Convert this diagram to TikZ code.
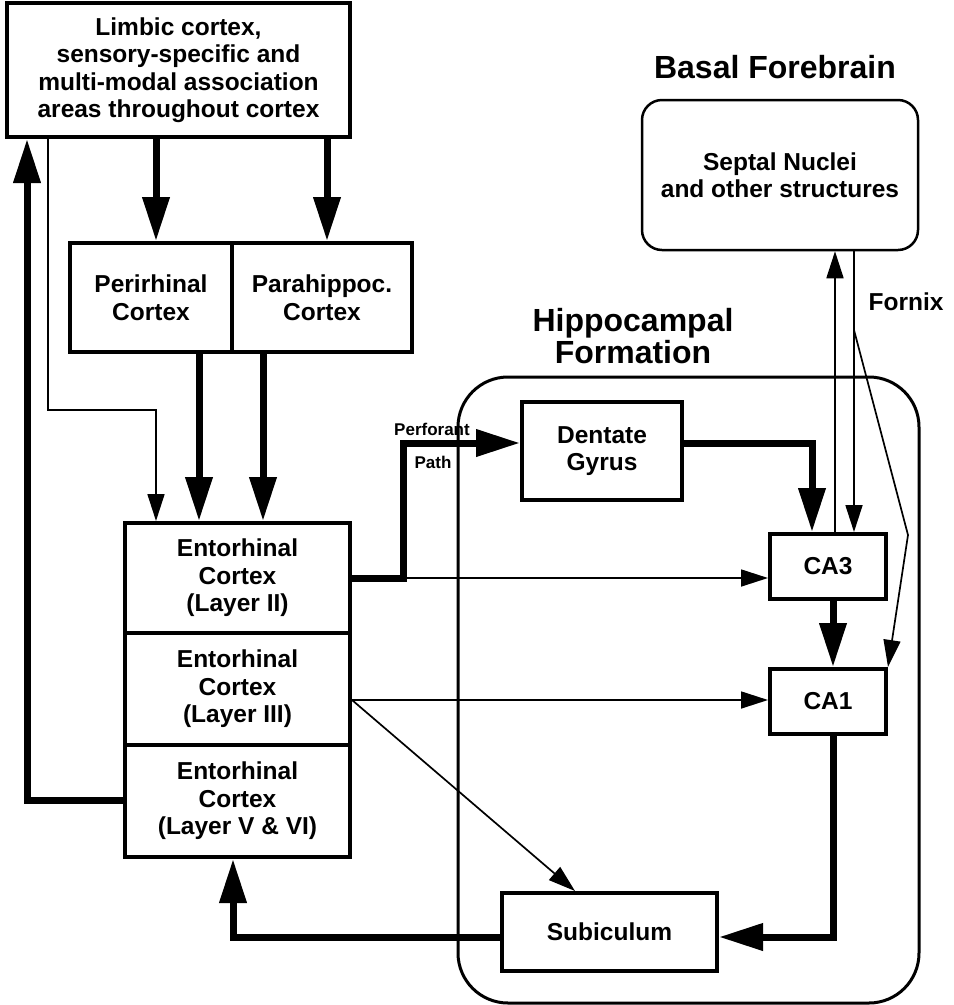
\documentclass[tikz,border=0pt]{standalone}
\usepackage{fontspec}
\setmainfont{Liberation Sans}
\usetikzlibrary{arrows.meta,calc}
\begin{document}
\begin{tikzpicture}[x=1pt,y=-1pt,
  box/.style={draw, line width=4pt, align=center, inner sep=0pt,
    font=\bfseries\fontsize{24.5}{27.5}\selectfont},
  bigarrow/.style={line width=7pt, line join=miter, -{Triangle[length=44pt,width=26pt]}},
  thinarrow/.style={line width=1.7pt, -{Triangle[length=27pt,width=17pt]}},
  heading/.style={align=center, font=\bfseries\fontsize{32}{32}\selectfont, inner sep=0pt},
  lbl/.style={align=center, font=\bfseries\fontsize{24.5}{27}\selectfont, inner sep=0pt},
  smalllbl/.style={font=\bfseries\fontsize{17}{17}\selectfont, inner sep=0pt}
]
\useasboundingbox[fill=white] (0,0) rectangle (954,1005);

% regions
\node[draw, line width=3pt, rounded corners=50pt, minimum width=461pt, minimum height=626pt, inner sep=0pt] (hippo) at (688.5,690) {};
\node[draw, line width=2.5pt, rounded corners=20pt, minimum width=276pt, minimum height=150pt, align=center, inner sep=0pt,
  font=\bfseries\fontsize{24.5}{27}\selectfont] (septal) at (780,175) {Septal Nuclei\\and other structures};

% headings
\node[heading] (bfhead) at (775,67) {Basal Forebrain};
\node[heading] (hfhead) at (633,336) {Hippocampal\\Formation};
\node[lbl] (fornix) at (906,302) {Fornix};

% boxes
\node[box, minimum width=343pt, minimum height=134pt] (limbic) at (178.5,70)
  {Limbic cortex,\\sensory-specific and\\multi-modal association\\areas throughout cortex};
\node[box, minimum width=162pt, minimum height=109pt] (peri) at (151,297.5) {Perirhinal\\Cortex};
\node[box, minimum width=180pt, minimum height=109pt] (para) at (322,297.5) {Parahippoc.\\Cortex};
\node[box, minimum width=225pt, minimum height=110pt] (ec2) at (237.5,578) {Entorhinal\\Cortex\\(Layer II)};
\node[box, minimum width=225pt, minimum height=112pt] (ec3) at (237.5,689) {Entorhinal\\Cortex\\(Layer III)};
\node[box, minimum width=225pt, minimum height=112pt] (ec5) at (237.5,801) {Entorhinal\\Cortex\\(Layer V \& VI)};
\node[box, minimum width=160pt, minimum height=98pt] (dg) at (602,451) {Dentate\\Gyrus};
\node[box, minimum width=116pt, minimum height=65pt] (ca3) at (828,566.5) {CA3};
\node[box, minimum width=116pt, minimum height=65pt] (ca1) at (828,701.5) {CA1};
\node[box, minimum width=215pt, minimum height=78pt] (sub) at (609.5,932) {Subiculum};

% perforant path labels
\node[smalllbl] (perf) at (432,429) {Perforant};
\node[smalllbl] (path) at (433,462) {Path};

% cortex inputs
\draw[bigarrow] (156,0 |- limbic.south) -- (156,0 |- peri.north);
\draw[bigarrow] (327,0 |- limbic.south) -- (327,0 |- para.north);
\draw[thinarrow] (48,0 |- limbic.south) -- (48,410) -- (156,410) -- (156,0 |- ec2.north);
\draw[bigarrow] (199,0 |- peri.south) -- (199,0 |- ec2.north);
\draw[bigarrow] (263,0 |- para.south) -- (263,0 |- ec2.north);
\draw[bigarrow] (ec5.west |- 0,800) -- (27,800) -- (27,0 |- limbic.south);

% perforant path
\coordinate (pp) at (403,578);
\draw[bigarrow] (ec2.east |- pp) -- (pp) -- (403,443) -- (dg.west |- 0,443);
\draw[thinarrow] (pp) -- (ca3.west |- pp);
\draw[bigarrow] (dg.east |- 0,443) -- (812,443) -- (812,0 |- ca3.north);
\draw[bigarrow] (833,0 |- ca3.south) -- (833,0 |- ca1.north);
\draw[thinarrow] (ec3.east |- 0,700) -- (ca1.west |- 0,700);
\draw[thinarrow] (ec3.east |- 0,700) -- (575,0 |- sub.north);
\draw[bigarrow] (833,0 |- ca1.south) -- (833,937) -- (sub.east |- 0,937);
\draw[bigarrow] (sub.west |- 0,937) -- (233,937) -- (233,0 |- ec5.south);

% fornix
\draw[thinarrow] (835,0 |- ca3.north) -- (835,0 |- septal.south);
\draw[thinarrow] (854,0 |- septal.south) -- (854,0 |- ca3.north);
\coordinate (fk) at (854,330);
\draw[thinarrow] (fk) -- (908,535) -- (ca1.north east);
\end{tikzpicture}
\end{document}
